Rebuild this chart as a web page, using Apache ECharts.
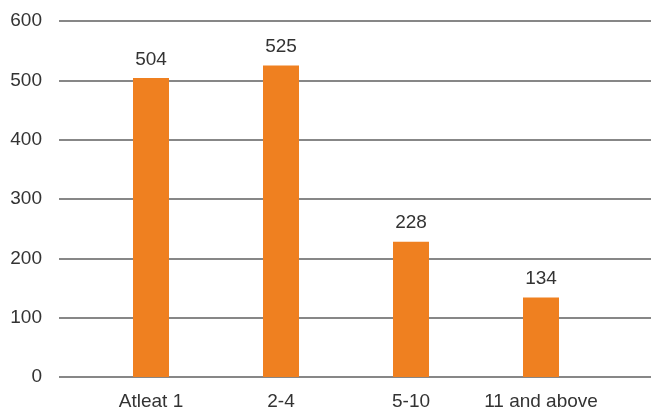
<!DOCTYPE html>
<html>
<head>
<meta charset="utf-8">
<script src="https://cdn.jsdelivr.net/npm/echarts@6/dist/echarts.min.js"></script>
<style>html,body{margin:0;padding:0;background:#fff}#c{width:651px;height:414px}</style>
</head>
<body>
<div id="c"></div>
<script>
const categories = ['Atleat 1', '2-4', '5-10', '11 and above'];
const values = [504, 525, 228, 134];
const yTicks = [0, 100, 200, 300, 400, 500, 600];

const FONT = '"Liberation Sans Narrow", "Liberation Sans", Arial, sans-serif';
const chart = echarts.init(document.getElementById('c'), null, {renderer: 'canvas'});
chart.setOption({
  animation: false,
  backgroundColor: '#ffffff',
  grid: [
    {left: 59, right: 0, top: 21, bottom: 37},
    {left: 86, right: 45, top: 21, bottom: 37}
  ],
  xAxis: [
    {gridIndex: 0, type: 'category', data: categories, show: false},
    {gridIndex: 1, type: 'category', data: categories,
     axisLine: {show: false}, axisTick: {show: false},
     axisLabel: {interval: 0, margin: 15, fontFamily: FONT, fontSize: 19, color: '#333333'}}
  ],
  yAxis: [
    {gridIndex: 0, type: 'value', min: yTicks[0], max: yTicks[yTicks.length - 1], interval: 100,
     axisLine: {show: false}, axisTick: {show: false},
     axisLabel: {margin: 17, fontFamily: FONT, fontSize: 19, color: '#333333'},
     splitLine: {show: true, lineStyle: {color: '#5f5f5f', width: 1.5}}},
    {gridIndex: 1, type: 'value', min: yTicks[0], max: yTicks[yTicks.length - 1], interval: 100, show: false,
     splitLine: {show: false}}
  ],
  series: [{
    type: 'bar',
    xAxisIndex: 1,
    yAxisIndex: 1,
    data: values,
    barWidth: 36,
    itemStyle: {color: '#EF8020'},
    label: {show: true, position: 'top', distance: 9, fontFamily: FONT, fontSize: 19, color: '#333333'}
  }]
});
</script>
</body>
</html>
